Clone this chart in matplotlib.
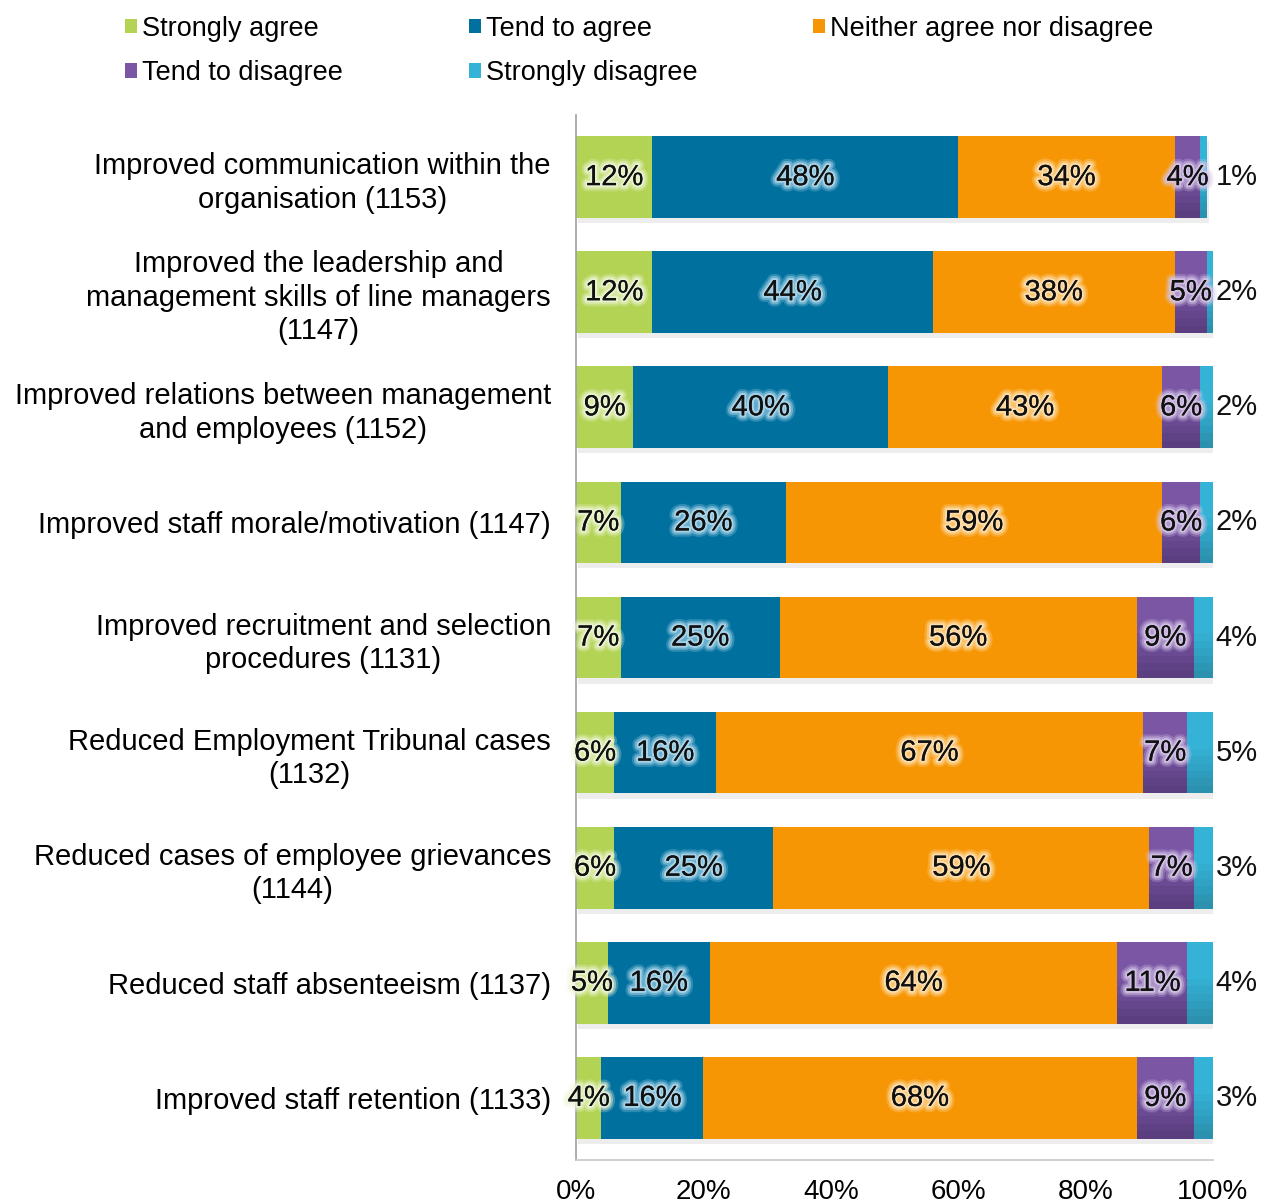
import matplotlib
matplotlib.use("Agg")
import matplotlib.pyplot as plt
import matplotlib.patheffects as pe
from matplotlib.patches import Patch
import numpy as np

plt.rcParams['font.family'] = ['Liberation Sans', 'DejaVu Sans']

categories = [
    "Improved communication within the\norganisation (1153)",
    "Improved the leadership and\nmanagement skills of line managers\n(1147)",
    "Improved relations between management\nand employees (1152)",
    "Improved staff morale/motivation (1147)",
    "Improved recruitment and selection\nprocedures (1131)",
    "Reduced Employment Tribunal cases\n(1132)",
    "Reduced cases of employee grievances\n(1144)",
    "Reduced staff absenteeism (1137)",
    "Improved staff retention (1133)",
]
series_names = ["Strongly agree", "Tend to agree", "Neither agree nor disagree",
                "Tend to disagree", "Strongly disagree"]
strongly_agree = [12, 12, 9, 7, 7, 6, 6, 5, 4]
tend_to_agree = [48, 44, 40, 26, 25, 16, 25, 16, 16]
neither = [34, 38, 43, 59, 56, 67, 59, 64, 68]
tend_to_disagree = [4, 5, 6, 6, 9, 7, 7, 11, 9]
strongly_disagree = [1, 2, 2, 2, 4, 5, 3, 4, 3]
x_ticks = [0, 20, 40, 60, 80, 100]
x_tick_labels = ["0%", "20%", "40%", "60%", "80%", "100%"]

colors = ["#B3D355", "#00709F", "#F79604", "#7A56A4", "#35B3D7"]
dark = [None, None, None, "#553A7A", "#2A8BA8"]
glow = ["#EEF6D8", "#B5DCEE", "#FDE3B8", "#D8C8EA", "#C8EAF4"]

fig = plt.figure(figsize=(12.7, 12.04), dpi=100)
ax = fig.add_axes([0.4535, 0.0365, 0.5016, 0.868])

data = [strongly_agree, tend_to_agree, neither, tend_to_disagree, strongly_disagree]
y = np.arange(len(categories))
left = np.zeros(len(categories))
bh = 0.71
nstrip = 6
for i, (vals, name) in enumerate(zip(data, series_names)):
    vals = np.array(vals, dtype=float)
    # subtle shadow
    ax.barh(y + 0.045, vals, left=left + 0.3, height=bh, color="#000000", alpha=0.07,
            zorder=1, linewidth=0)
    ax.barh(y, vals, left=left, height=bh, color=colors[i], label=name,
            zorder=2, linewidth=0)
    if dark[i] is not None:
        # darker lower half gradient
        for k in range(nstrip):
            frac0 = 0.0 + k / nstrip * 0.55
            h = 0.55 / nstrip * bh
            ycen = y - bh / 2 + bh * 0.45 + frac0 * bh + h / 2
            ax.barh(ycen, vals, left=left, height=h, color=dark[i],
                    alpha=(k + 1) / nstrip * 0.85, zorder=3, linewidth=0)
    for j, v in enumerate(vals):
        if i < 4:
            ax.text(left[j] + v / 2, y[j], f"{int(v)}%", ha="center", va="center",
                    fontsize=21, color="#111111", zorder=5,
                    path_effects=[pe.withStroke(linewidth=9, foreground=glow[i], alpha=0.25),
                                  pe.withStroke(linewidth=6, foreground=glow[i], alpha=0.45),
                                  pe.withStroke(linewidth=3, foreground=glow[i], alpha=0.8),
                                  pe.Normal()])
        else:
            ax.text(100.4, y[j], f"{int(v)}%", ha="left", va="center",
                    fontsize=21, color="#111111", zorder=5)
    left += vals

ax.set_ylim(len(categories) - 0.46, -0.54)
ax.set_xlim(0, 100)
ax.set_yticks(y)
ax.set_yticklabels(categories, fontsize=21, multialignment="center", linespacing=1.25)
ax.set_xticks(x_ticks)
ax.set_xticklabels(x_tick_labels, fontsize=20)
ax.tick_params(axis="both", length=0)
ax.tick_params(axis="y", pad=18)
ax.tick_params(axis="x", pad=14)
for s in ["top", "right"]:
    ax.spines[s].set_visible(False)
ax.spines["left"].set_color("#A0A0A0")
ax.spines["bottom"].set_color("#C8C8C8")
ax.spines["left"].set_linewidth(1.2)
ax.spines["bottom"].set_linewidth(1.2)

# legend: three fixed-width columns, row-major order
handles = [Patch(facecolor=c, edgecolor="none") for c in colors]
col_x = [0.081, 0.352, 0.623]
col_items = [[0, 3], [1, 4], [2]]
for cx, items in zip(col_x, col_items):
    leg = fig.legend([handles[k] for k in items], [series_names[k] for k in items],
                     loc="upper left", bbox_to_anchor=(cx, 1.005), ncol=1, frameon=False,
                     fontsize=19.5, handlelength=0.45, handleheight=0.45,
                     handletextpad=0.2, labelspacing=0.68, borderpad=0.3)

fig.savefig("out.png", dpi=100)
